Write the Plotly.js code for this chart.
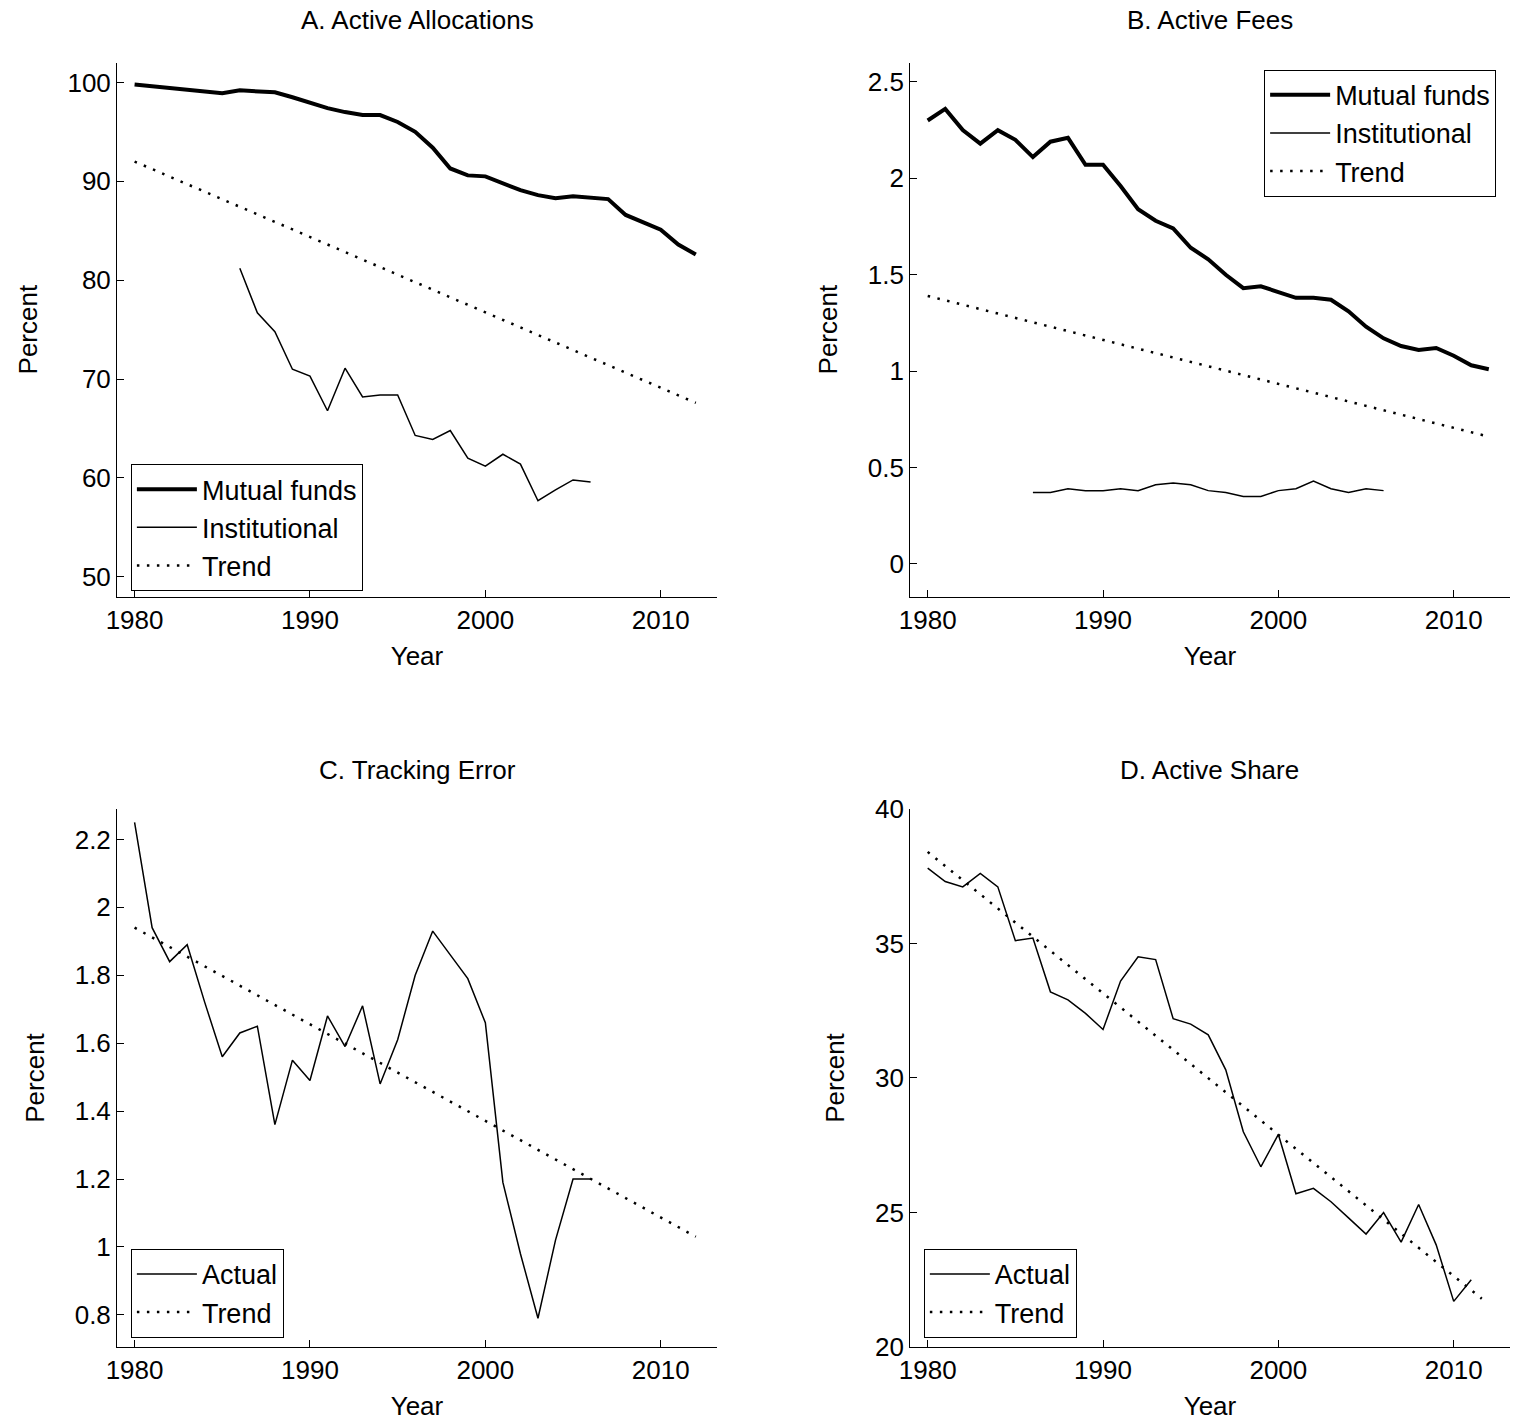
<!DOCTYPE html>
<html><head><meta charset="utf-8">
<script src="https://cdn.plot.ly/plotly-3.0.1.min.js"></script>
<style>body{margin:0}#p{width:1522px;height:1424px}</style>
</head><body><div id="p"></div>
<script>
function yrs(a, b) { var r = []; for (var y = a; y <= b; y++) r.push(y); return r; }

var yearsMF = yrs(1980, 2012);
var yearsInst = yrs(1986, 2006);
var trendYears = [1980, 2012];

var allocMF = [99.8, 99.6, 99.4, 99.2, 99.0, 98.9, 99.2, 99.1, 99.0, 98.5, 97.9, 97.4, 97.0, 96.7, 96.7, 96.0, 95.0, 93.4, 91.3, 90.6, 90.5, 89.8, 89.1, 88.6, 88.3, 88.5, 88.4, 88.2, 86.6, 85.9, 85.1, 83.6, 82.6];
var allocInst = [81.2, 76.7, 74.8, 71.0, 70.3, 66.8, 71.1, 68.2, 68.4, 68.4, 64.3, 63.9, 64.8, 62.0, 61.2, 62.4, 61.4, 57.7, 58.8, 59.8, 59.6];
var allocTrend = [92.0, 67.6];

var feesMF = [2.30, 2.36, 2.25, 2.18, 2.25, 2.20, 2.11, 2.19, 2.21, 2.07, 2.07, 1.96, 1.84, 1.78, 1.74, 1.64, 1.58, 1.50, 1.43, 1.44, 1.41, 1.38, 1.38, 1.37, 1.31, 1.23, 1.17, 1.13, 1.11, 1.12, 1.08, 1.03, 1.01];
var feesInst = [0.37, 0.37, 0.39, 0.38, 0.38, 0.39, 0.38, 0.41, 0.42, 0.41, 0.38, 0.37, 0.35, 0.35, 0.38, 0.39, 0.43, 0.39, 0.37, 0.39, 0.38];
var feesTrend = [1.39, 0.66];

var teYears = yrs(1980, 2006);
var teActual = [2.25, 1.94, 1.84, 1.89, 1.72, 1.56, 1.63, 1.65, 1.36, 1.55, 1.49, 1.68, 1.59, 1.71, 1.48, 1.61, 1.80, 1.93, 1.86, 1.79, 1.66, 1.19, 0.98, 0.79, 1.02, 1.20, 1.20];
var teTrend = [1.94, 1.03];

var asYears = yrs(1980, 2011);
var asActual = [37.8, 37.3, 37.1, 37.6, 37.1, 35.1, 35.2, 33.2, 32.9, 32.4, 31.8, 33.6, 34.5, 34.4, 32.2, 32.0, 31.6, 30.3, 28.0, 26.7, 27.9, 25.7, 25.9, 25.4, 24.8, 24.2, 25.0, 23.9, 25.3, 23.8, 21.7, 22.5];
var asTrendYears = [1980, 2011.6];
var asTrend = [38.4, 21.8];

var thick = {color: 'black', width: 4};
var thin = {color: 'black', width: 1.5};
var dot = {color: 'black', width: 2.5, dash: '2.5px,7.5px'};

function tr(x, y, name, line, ax, lg) {
  return {x: x, y: y, name: name, mode: 'lines', line: line, xaxis: 'x' + ax, yaxis: 'y' + ax, legend: lg, showlegend: true};
}

var data = [
  tr(yearsMF, allocMF, 'Mutual funds', thick, '', 'legend'),
  tr(yearsInst, allocInst, 'Institutional', thin, '', 'legend'),
  tr(trendYears, allocTrend, 'Trend', dot, '', 'legend'),
  tr(yearsMF, feesMF, 'Mutual funds', thick, '2', 'legend2'),
  tr(yearsInst, feesInst, 'Institutional', thin, '2', 'legend2'),
  tr(trendYears, feesTrend, 'Trend', dot, '2', 'legend2'),
  tr(teYears, teActual, 'Actual', thin, '3', 'legend3'),
  tr(trendYears, teTrend, 'Trend', dot, '3', 'legend3'),
  tr(asYears, asActual, 'Actual', thin, '4', 'legend4'),
  tr(asTrendYears, asTrend, 'Trend', dot, '4', 'legend4')
];

var font = {family: 'Liberation Sans, Arial, sans-serif', size: 26, color: 'black'};
function xa(dom, anchor) {
  return {domain: dom, anchor: anchor, range: [1979, 2013.2], tickvals: [1980, 1990, 2000, 2010],
    showline: true, linecolor: 'black', linewidth: 1, ticks: 'inside', ticklen: 7, tickcolor: 'black',
    showgrid: false, zeroline: false, title: {text: 'Year', font: font, standoff: 12}, tickfont: font};
}
function ya(dom, anchor, range, vals) {
  return {domain: dom, anchor: anchor, range: range, tickvals: vals,
    showline: true, linecolor: 'black', linewidth: 1, ticks: 'inside', ticklen: 7, tickcolor: 'black',
    showgrid: false, zeroline: false, title: {text: 'Percent', font: font, standoff: 22}, tickfont: font};
}
function lg(x, y, xanchor) {
  return {x: x, y: y, xanchor: xanchor, yanchor: 'top', xref: 'paper', yref: 'paper',
    bordercolor: 'black', borderwidth: 1, bgcolor: 'white', font: {family: font.family, size: 27, color: 'black'},
    tracegroupgap: 0, itemwidth: 60};
}
function ttl(text, x, y) {
  return {text: text, x: x, y: y, xref: 'paper', yref: 'paper', showarrow: false, xanchor: 'center', yanchor: 'bottom',
    font: {family: font.family, size: 26, color: 'black'}};
}

var layout = {
  width: 1522, height: 1424, margin: {l: 0, r: 0, t: 0, b: 0},
  paper_bgcolor: 'white', plot_bgcolor: 'white', font: font,
  xaxis: xa([0.0769, 0.471], 'y'),
  yaxis: ya([0.581, 0.956], 'x', [48, 102], [50, 60, 70, 80, 90, 100]),
  xaxis2: xa([0.598, 0.992], 'y2'),
  yaxis2: ya([0.581, 0.956], 'x2', [-0.17, 2.6], [0, 0.5, 1, 1.5, 2, 2.5]),
  xaxis3: xa([0.0769, 0.471], 'y3'),
  yaxis3: ya([0.054, 0.432], 'x3', [0.705, 2.29], [0.8, 1, 1.2, 1.4, 1.6, 1.8, 2, 2.2]),
  xaxis4: xa([0.598, 0.992], 'y4'),
  yaxis4: ya([0.054, 0.432], 'x4', [20, 40], [20, 25, 30, 35, 40]),
  legend: lg(0.086, 0.674, 'left'),
  legend2: lg(0.983, 0.951, 'right'),
  legend3: lg(0.086, 0.123, 'left'),
  legend4: lg(0.607, 0.123, 'left'),
  annotations: [
    ttl('A. Active Allocations', 0.274, 0.974),
    ttl('B. Active Fees', 0.795, 0.974),
    ttl('C. Tracking Error', 0.274, 0.447),
    ttl('D. Active Share', 0.795, 0.447)
  ]
};

Plotly.newPlot('p', data, layout, {displayModeBar: false, staticPlot: true});
</script></body></html>
